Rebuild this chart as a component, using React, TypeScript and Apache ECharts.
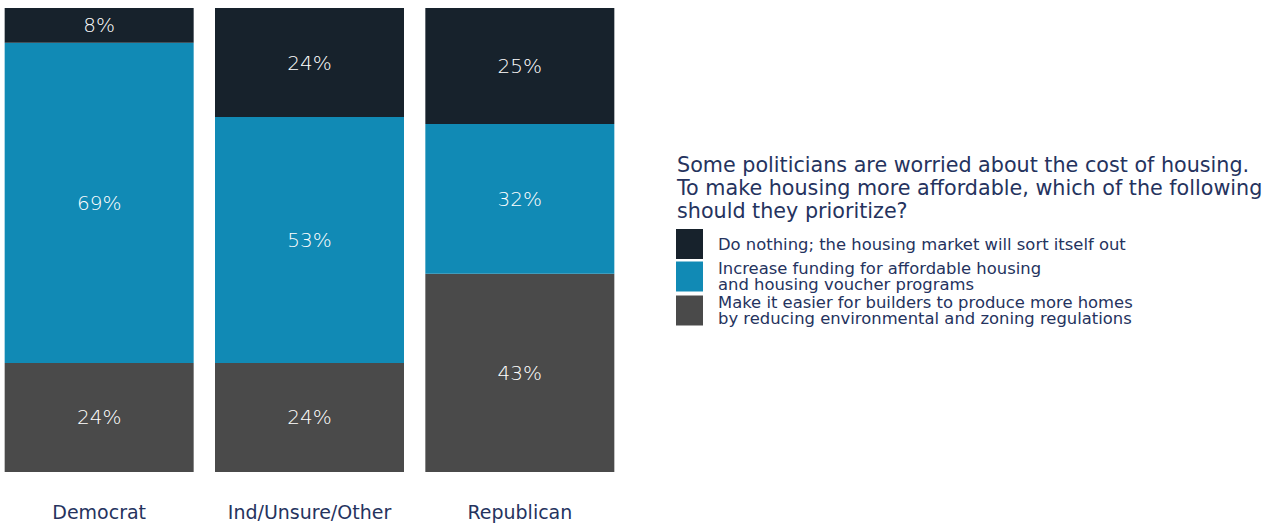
import React, { useEffect, useRef } from "react";
import * as echarts from "echarts";

const categories = ["Democrat", "Ind/Unsure/Other", "Republican"];
const seriesNames = [
  "Do nothing; the housing market will sort itself out",
  "Increase funding for affordable housing\nand housing voucher programs",
  "Make it easier for builders to produce more homes\nby reducing environmental and zoning regulations",
];
// stacked bottom-to-top: gray (regulations), blue (funding), dark (do nothing)
const doNothing = [7.5, 23.5, 25.0];
const funding = [69.0, 53.0, 32.3];
const easier = [23.5, 23.5, 42.7];

const titleText =
  "Some politicians are worried about the cost of housing.\nTo make housing more affordable, which of the following\nshould they prioritize?";

const COLORS = { dark: "#17222c", blue: "#118ab5", gray: "#4a4a4a" };
const TEXT = "#25335e";
const FONT = "DejaVu Sans";
const SHIFT = 6; // container starts 6px left of the page edge

export default function App() {
  const ref = useRef<HTMLDivElement>(null);
  useEffect(() => {
    if (!ref.current) return;
    const chart = echarts.init(ref.current, undefined, { renderer: "svg" });
    const label = {
      show: true,
      position: "inside" as const,
      color: "#ffffff",
      fontSize: 20,
      fontFamily: FONT,
      fontWeight: 200 as any,
      formatter: (p: any) => Math.round(p.value) + "%",
    };
    const mk = (name: string, data: number[], color: string) => ({
      name,
      type: "bar" as const,
      stack: "total",
      data,
      barWidth: 189,
      itemStyle: { color },
      label,
    });
    chart.setOption({
      animation: false,
      title: {
        text: titleText,
        left: 672 + SHIFT,
        top: 148,
        textStyle: {
          color: TEXT,
          fontSize: 20.7,
          lineHeight: 23,
          fontWeight: "normal",
          fontFamily: FONT,
        },
      },
      legend: {
        orient: "vertical",
        left: 671 + SHIFT,
        top: 224,
        itemWidth: 27,
        itemHeight: 30,
        itemGap: 1,
        icon: "rect",
        selectedMode: false,
        data: [seriesNames[0], seriesNames[1], seriesNames[2]],
        textStyle: {
          color: TEXT,
          fontSize: 16.4,
          lineHeight: 16.5,
          fontFamily: FONT,
          padding: [0, 0, 0, 10],
        },
      },
      grid: { left: 0, right: 651, top: 8, bottom: 51 },
      xAxis: {
        type: "category",
        data: categories,
        axisLine: { show: false },
        axisTick: { show: false },
        axisLabel: {
          color: TEXT,
          fontSize: 19,
          fontFamily: FONT,
          margin: 30,
          interval: 0,
        },
      },
      yAxis: {
        type: "value",
        min: 0,
        max: 100,
        show: false,
        splitLine: { show: false },
      },
      series: [
        mk(seriesNames[2], easier, COLORS.gray),
        mk(seriesNames[1], funding, COLORS.blue),
        mk(seriesNames[0], doNothing, COLORS.dark),
      ],
    });
    return () => chart.dispose();
  }, []);
  return (
    <div
      ref={ref}
      style={{
        position: "fixed",
        left: -SHIFT,
        top: 0,
        width: 1276 + SHIFT,
        height: 523,
        background: "#ffffff",
      }}
    />
  );
}
